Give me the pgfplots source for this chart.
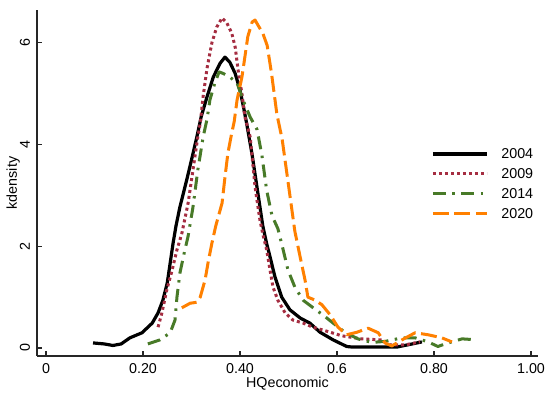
\documentclass[border=0pt]{standalone}
\usepackage{fontspec}
\setmainfont{Liberation Sans}
\usepackage{pgfplots}
\pgfplotsset{compat=1.18}
\definecolor{cr}{RGB}{165,45,65}
\definecolor{dg}{RGB}{72,122,40}
\definecolor{og}{RGB}{255,128,0}
\newcommand{\ff}{\fontsize{14.3}{17}\selectfont}
\begin{document}
\begin{tikzpicture}[font=\ff]
\useasboundingbox (-37pt,-39pt) rectangle (513pt,356pt);
\begin{axis}[
  at={(0,0)}, anchor=south west,
  scale only axis, width=501pt, height=346pt,
  xmin=-0.01856, xmax=1.0144, ymin=-0.157, ymax=6.647,
  axis x line*=bottom, axis y line*=left,
  axis line style={line width=1.1pt, black!85, -},
  xtick={0,0.2,0.4,0.6,0.8,1.0},
  xticklabels={0,0.20,0.40,0.6,0.80,1.00},
  ytick={0,2,4,6}, yticklabels={0,2,4,6},
  tick align=inside, major tick length=5pt,
  tick style={line width=1.1pt, black!85},
  tick label style={font=\ff},
  label style={font=\ff},
  xticklabel shift=7pt, yticklabel shift=12pt,
  xticklabel style={anchor=north, inner sep=0pt},
  yticklabel style={rotate=90, anchor=center, inner sep=0pt},
  xlabel={HQeconomic}, ylabel={kdensity},
  xlabel style={at={(axis description cs:0.5,0)}, anchor=north, inner sep=0pt, yshift=-21pt},
  ylabel style={at={([xshift=-17pt]axis description cs:0,0.5)}, rotate=0, anchor=south, inner sep=0pt},
  legend style={draw=none, fill=none, at={(0.7804,0.607)}, anchor=north west, row sep=8.5pt,
    font=\ff, nodes={inner sep=0pt},
    /tikz/every odd column/.append style={column sep=13pt}},
  legend cell align=left,
  legend image code/.code={\draw[#1] (0pt,0pt) -- (54pt,0pt);},
  line join=round,
]
\addplot[black, line width=3.2pt] coordinates {
(0.097,0.10)(0.12,0.08)(0.138,0.05)(0.155,0.08)(0.173,0.2)(0.198,0.3)(0.219,0.49)(0.231,0.69)(0.241,0.94)(0.25,1.28)(0.256,1.67)(0.262,2.06)(0.268,2.4)(0.276,2.77)(0.29,3.3)(0.30,3.7)(0.311,4.15)(0.32,4.55)(0.332,4.94)(0.345,5.33)(0.359,5.6)(0.369,5.72)(0.379,5.62)(0.39,5.4)(0.40,5.07)(0.408,4.7)(0.414,4.4)(0.425,3.8)(0.436,3.1)(0.447,2.4)(0.455,2.05)(0.462,1.79)(0.472,1.4)(0.486,1.0)(0.503,0.75)(0.524,0.59)(0.544,0.49)(0.565,0.31)(0.592,0.16)(0.62,0.03)(0.63,0.02)(0.724,0.02)(0.75,0.07)(0.775,0.12)
};
\addlegendentry{2004}
\addplot[cr, line width=3pt, line cap=butt, dash pattern=on 3pt off 3pt] coordinates {
(0.231,0.41)(0.239,0.69)(0.249,1.14)(0.26,1.53)(0.27,1.93)(0.28,2.25)(0.293,2.85)(0.303,3.5)(0.313,4.15)(0.318,4.42)(0.324,4.95)(0.332,5.5)(0.342,6.0)(0.352,6.31)(0.363,6.49)(0.373,6.39)(0.383,6.19)(0.39,5.92)(0.396,5.47)(0.404,5.0)(0.41,4.55)(0.421,4.15)(0.431,3.17)(0.441,2.52)(0.448,2.2)(0.455,1.93)(0.462,1.53)(0.468,1.2)(0.478,0.94)(0.493,0.69)(0.509,0.55)(0.53,0.49)(0.55,0.41)(0.579,0.33)(0.61,0.24)(0.65,0.18)(0.69,0.16)(0.71,0.06)(0.74,0.06)(0.771,0.12)
};
\addlegendentry{2009}
\addplot[dg, line width=3pt, line cap=butt, dash pattern=on 13pt off 6.5pt on 2.5pt off 6.5pt] coordinates {
(0.21,0.08)(0.235,0.16)(0.256,0.3)(0.266,0.55)(0.27,1.0)(0.276,1.47)(0.285,1.87)(0.293,2.2)(0.303,2.77)(0.313,3.5)(0.324,4.15)(0.332,4.5)(0.338,4.88)(0.348,5.21)(0.357,5.43)(0.365,5.4)(0.379,5.33)(0.394,5.21)(0.406,4.88)(0.421,4.54)(0.435,4.3)(0.445,3.8)(0.455,3.1)(0.466,2.6)(0.478,2.35)(0.489,1.93)(0.499,1.53)(0.513,1.2)(0.53,0.94)(0.551,0.79)(0.571,0.65)(0.592,0.49)(0.616,0.31)(0.643,0.18)(0.672,0.11)(0.699,0.13)(0.734,0.2)(0.761,0.2)(0.788,0.12)(0.808,0.03)(0.829,0.1)(0.858,0.18)(0.889,0.16)
};
\addlegendentry{2014}
\addplot[og, line width=3pt, line cap=butt, dash pattern=on 16pt off 5.5pt] coordinates {
(0.28,0.79)(0.297,0.88)(0.311,0.9)(0.318,1.0)(0.328,1.34)(0.334,1.67)(0.342,2.06)(0.35,2.4)(0.363,2.85)(0.369,3.36)(0.375,3.83)(0.383,4.23)(0.388,4.45)(0.394,4.88)(0.404,5.33)(0.41,5.72)(0.416,6.12)(0.425,6.41)(0.431,6.45)(0.437,6.35)(0.447,6.19)(0.456,5.95)(0.465,5.4)(0.476,4.6)(0.487,4.1)(0.50,3.2)(0.513,2.3)(0.524,1.79)(0.534,1.34)(0.54,1.0)(0.555,0.94)(0.569,0.85)(0.586,0.65)(0.602,0.41)(0.62,0.26)(0.641,0.31)(0.664,0.39)(0.685,0.3)(0.699,0.1)(0.713,0.04)(0.734,0.16)(0.761,0.3)(0.788,0.26)(0.816,0.2)(0.837,0.12)
};
\addlegendentry{2020}
\end{axis}
\end{tikzpicture}
\end{document}
